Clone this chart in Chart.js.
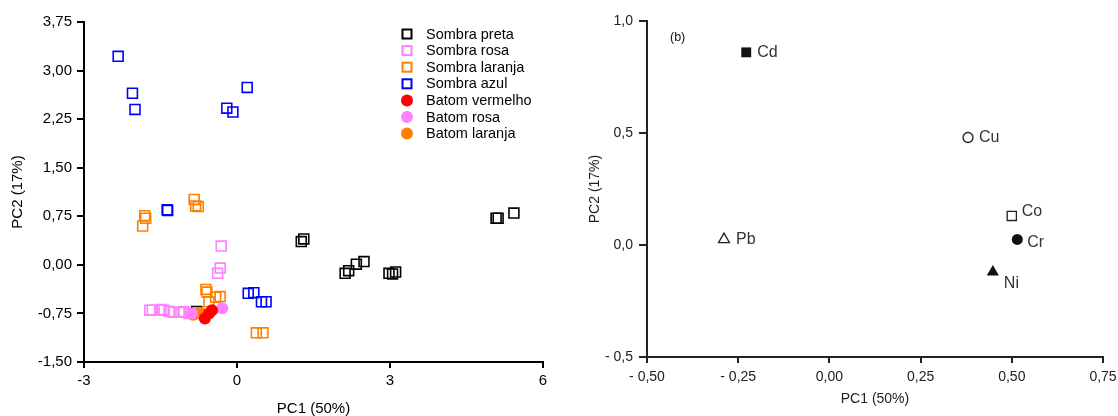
<!DOCTYPE html>
<html><head><meta charset="utf-8">
<script src="https://cdn.jsdelivr.net/npm/chart.js@4/dist/chart.umd.min.js"></script>
<style>
html,body{margin:0;padding:0;background:#fff;overflow:hidden}
#wrapA{position:absolute;left:0;top:0;width:560px;height:416px}
#wrapB{position:absolute;left:560px;top:0;width:558px;height:416px}
</style></head><body>
<div id="wrapA"><canvas id="cA" width="560" height="416"></canvas></div>
<div id="wrapB"><canvas id="cB" width="558" height="416"></canvas></div>
<script>
// ---- Data (a): scores ----
const sombraPretaX = [1.26, 1.31, 2.12, 2.19, 2.34, 2.49, 2.98, 3.05, 3.11, 5.08, 5.12, 5.43, -0.79];
const sombraPretaY = [0.36, 0.40, -0.13, -0.09, 0.01, 0.05, -0.13, -0.14, -0.11, 0.72, 0.72, 0.80, -0.72];
const sombraRosaX = [-0.31, -0.33, -0.38, -1.71, -1.66, -1.49, -1.43, -1.33, -1.25, -1.10, -1.04, -0.94];
const sombraRosaY = [0.29, -0.05, -0.13, -0.70, -0.70, -0.69, -0.70, -0.72, -0.73, -0.73, -0.72, -0.75];
const sombraLaranjaX = [-0.84, -0.81, -0.76, -1.81, -1.79, -1.85, -0.61, -0.59, -0.55, -0.42, -0.33, 0.38, 0.51];
const sombraLaranjaY = [1.01, 0.91, 0.90, 0.76, 0.72, 0.60, -0.38, -0.42, -0.57, -0.50, -0.49, -1.05, -1.05];
const sombraAzulX = [-2.33, -2.05, -2.00, 0.20, -0.20, -0.08, -1.37, -1.36, 0.22, 0.33, 0.48, 0.57];
const sombraAzulY = [3.22, 2.65, 2.40, 2.74, 2.42, 2.36, 0.85, 0.84, -0.44, -0.43, -0.57, -0.57];
const batomVermelhoX = [-0.49, -0.55, -0.63];
const batomVermelhoY = [-0.70, -0.75, -0.83];
const batomRosaX = [-0.29, -0.88];
const batomRosaY = [-0.67, -0.75];
const batomLaranjaX = [-0.86, -0.78, -0.72];
const batomLaranjaY = [-0.77, -0.75, -0.74];
const seriesNames = ['Sombra preta', 'Sombra rosa', 'Sombra laranja', 'Sombra azul', 'Batom vermelho', 'Batom rosa', 'Batom laranja'];
const xTicksA = [-3, 0, 3, 6];
const yTicksA = [-1.5, -0.75, 0, 0.75, 1.5, 2.25, 3.0, 3.75];
const axisTitleX = 'PC1 (50%)';
const axisTitleY = 'PC2 (17%)';

// ---- Data (b): loadings ----
const elements = ['Cd', 'Cu', 'Co', 'Cr', 'Ni', 'Pb'];
const loadPC1 = [-0.228, 0.38, 0.50, 0.515, 0.448, -0.289];
const loadPC2 = [0.86, 0.48, 0.13, 0.025, -0.12, 0.025];
const xTicksB = [-0.5, -0.25, 0, 0.25, 0.5, 0.75];
const yTicksB = [-0.5, 0, 0.5, 1.0];
const panelLabel = '(b)';

Chart.defaults.font.family = '"Liberation Sans", Arial, sans-serif';
Chart.defaults.color = '#000';

const zip = (xs, ys) => xs.map((x, i) => ({x, y: ys[i]}));
const comma = (v, d) => v.toFixed(d).replace('.', ',');
const noPad = s => { s.paddingLeft = 0; s.paddingRight = 0; s.paddingTop = 0; s.paddingBottom = 0; };

const sq = (label, xs, ys, col) => ({
  label, data: zip(xs, ys), pointStyle: 'rect', pointRadius: 7, pointHoverRadius: 7,
  borderColor: col, backgroundColor: 'rgba(0,0,0,0)', pointBorderWidth: 1.6, showLine: false, order: 1
});
const ci = (label, xs, ys, col) => ({
  label, data: zip(xs, ys), pointStyle: 'circle', pointRadius: 6, pointHoverRadius: 6,
  borderColor: col, backgroundColor: col, pointBorderWidth: 0, showLine: false, order: 0
});

const legendPlugin = {
  id: 'inLegend',
  afterDatasetsDraw(chart) {
    const {ctx, chartArea} = chart;
    ctx.save();
    ctx.font = '14.5px "Liberation Sans", Arial, sans-serif';
    ctx.textBaseline = 'middle';
    ctx.textAlign = 'left';
    chart.data.datasets.forEach((ds, i) => {
      const cx = chartArea.left + 323, cy = chartArea.top + 12 + i * 16.6;
      if (ds.pointStyle === 'rect') {
        ctx.strokeStyle = ds.borderColor; ctx.lineWidth = 2;
        ctx.strokeRect(cx - 4.5, cy - 4.5, 9, 9);
      } else {
        ctx.fillStyle = ds.backgroundColor;
        ctx.beginPath(); ctx.arc(cx, cy, 6, 0, Math.PI * 2); ctx.fill();
      }
      ctx.fillStyle = '#000';
      ctx.fillText(ds.label, cx + 19, cy + 0.5);
    });
    ctx.restore();
  }
};

new Chart(document.getElementById('cA'), {
  type: 'scatter',
  data: {
    datasets: [
      sq(seriesNames[0], sombraPretaX, sombraPretaY, '#000000'),
      sq(seriesNames[1], sombraRosaX, sombraRosaY, '#ff80ff'),
      sq(seriesNames[2], sombraLaranjaX, sombraLaranjaY, '#ff8000'),
      sq(seriesNames[3], sombraAzulX, sombraAzulY, '#0000ff'),
      ci(seriesNames[4], batomVermelhoX, batomVermelhoY, '#ff0000'),
      ci(seriesNames[5], batomRosaX, batomRosaY, '#ff80ff'),
      ci(seriesNames[6], batomLaranjaX, batomLaranjaY, '#ff8000')
    ]
  },
  options: {
    responsive: false, animation: false,
    layout: {padding: {left: 0, top: 22, right: 17, bottom: 0}},
    plugins: {legend: {display: false}, tooltip: {enabled: false}},
    scales: {
      x: {
        type: 'linear', min: -3, max: 6,
        afterBuildTicks: s => { s.ticks = xTicksA.map(v => ({value: v})); },
        afterFit: s => { s.height = 54; noPad(s); },
        ticks: {callback: v => String(v), font: {size: 15}, color: '#000', padding: 4, maxRotation: 0},
        grid: {drawOnChartArea: false, drawTicks: true, tickLength: 6, color: '#000', lineWidth: 2},
        border: {display: true, color: '#000', width: 2},
        title: {display: true, text: axisTitleX, font: {size: 15, lineHeight: 1}, color: '#000', padding: {top: 0, bottom: 0}}
      },
      y: {
        type: 'linear', min: -1.5, max: 3.75,
        afterBuildTicks: s => { s.ticks = yTicksA.map(v => ({value: v})); },
        afterFit: s => { s.width = 84; noPad(s); },
        ticks: {callback: v => comma(v, 2), font: {size: 15}, color: '#000', padding: 5},
        grid: {drawOnChartArea: false, drawTicks: true, tickLength: 7, color: '#000', lineWidth: 2},
        border: {display: true, color: '#000', width: 2},
        title: {display: true, text: axisTitleY, font: {size: 15, lineHeight: 1}, color: '#000', padding: {top: 10, bottom: 0}}
      }
    }
  },
  plugins: [legendPlugin]
});

// ---- Chart (b) ----
const labelOffsets = [[11, 0], [11, 0], [10, -4], [10, 3], [11, 12], [12, 0]];
const labelPlugin = {
  id: 'ptLabels',
  afterDatasetsDraw(chart) {
    const {ctx, chartArea} = chart;
    const meta = chart.getDatasetMeta(0);
    ctx.save();
    ctx.font = '16px "Liberation Sans", Arial, sans-serif';
    ctx.fillStyle = '#333';
    ctx.textBaseline = 'middle';
    ctx.textAlign = 'left';
    meta.data.forEach((pt, i) => {
      ctx.fillText(elements[i], pt.x + labelOffsets[i][0], pt.y + labelOffsets[i][1]);
    });
    ctx.font = '12.5px "Liberation Sans", Arial, sans-serif';
    ctx.fillStyle = '#111';
    ctx.fillText(panelLabel, chartArea.left + 23, chartArea.top + 17);
    ctx.restore();
  }
};

const fmtB = (v, d) => { const s = comma(Math.abs(v), d); return v < -1e-9 ? '- ' + s : s; };

new Chart(document.getElementById('cB'), {
  type: 'scatter',
  data: {
    datasets: [{
      label: 'loadings',
      data: zip(loadPC1, loadPC2),
      pointStyle: ['rect', 'circle', 'rect', 'circle', 'triangle', 'triangle'],
      pointRadius: [7, 5, 6.5, 5.5, 7, 6.3],
      pointHoverRadius: [7, 5, 6.5, 5.5, 7, 6.3],
      backgroundColor: ['#111', 'rgba(0,0,0,0)', 'rgba(0,0,0,0)', '#111', '#111', 'rgba(0,0,0,0)'],
      borderColor: '#222',
      pointBorderWidth: [0, 1.3, 1.3, 0, 0, 1.3],
      showLine: false
    }]
  },
  options: {
    responsive: false, animation: false,
    layout: {padding: {left: 0, top: 21, right: 15, bottom: 0}},
    plugins: {legend: {display: false}, tooltip: {enabled: false}},
    scales: {
      x: {
        type: 'linear', min: -0.5, max: 0.75,
        afterBuildTicks: s => { s.ticks = xTicksB.map(v => ({value: v})); },
        afterFit: s => { s.height = 59; noPad(s); },
        ticks: {callback: v => fmtB(v, 2), font: {size: 14}, color: '#222', padding: 6, maxRotation: 0},
        grid: {drawOnChartArea: false, drawTicks: true, tickLength: 6, color: '#222', lineWidth: 2},
        border: {display: true, color: '#222', width: 2},
        title: {display: true, text: axisTitleX, font: {size: 14, lineHeight: 1}, color: '#222', padding: {top: 0, bottom: 10}}
      },
      y: {
        type: 'linear', min: -0.5, max: 1.0,
        afterBuildTicks: s => { s.ticks = yTicksB.map(v => ({value: v})); },
        afterFit: s => { s.width = 87; noPad(s); },
        ticks: {callback: v => fmtB(v, 1), font: {size: 14}, color: '#222', padding: 6},
        grid: {drawOnChartArea: false, drawTicks: true, tickLength: 8, color: '#222', lineWidth: 2},
        border: {display: true, color: '#222', width: 2},
        title: {display: true, text: axisTitleY, font: {size: 14, lineHeight: 1}, color: '#222', padding: {top: 28, bottom: 0}}
      }
    }
  },
  plugins: [labelPlugin]
});
</script>
</body></html>
